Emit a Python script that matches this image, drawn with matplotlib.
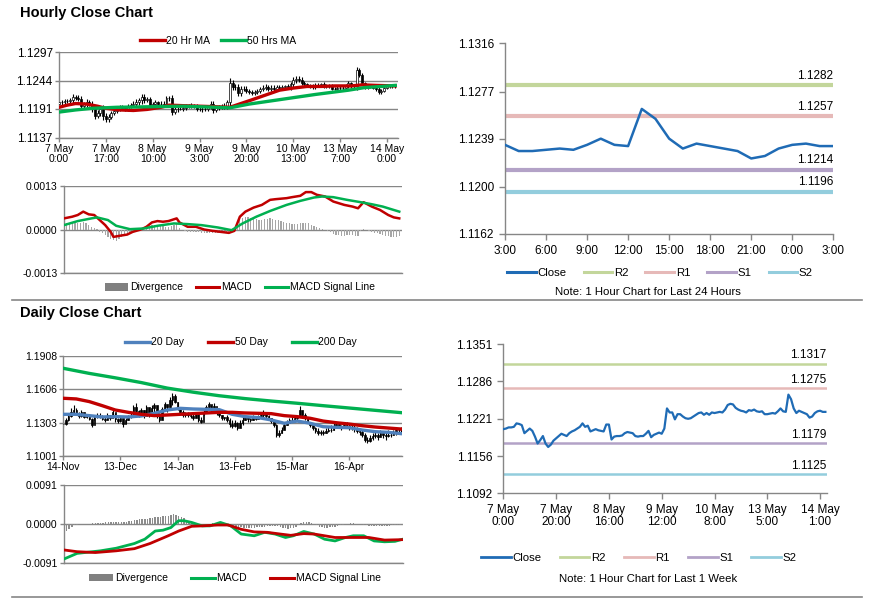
import numpy as np
import matplotlib
matplotlib.use("Agg")
import matplotlib.pyplot as plt
from matplotlib.lines import Line2D
from matplotlib.patches import Patch
from matplotlib.transforms import blended_transform_factory

plt.rcParams["font.family"] = ["Liberation Sans", "DejaVu Sans"]

W, H = 873, 601
GREY = "#868686"
RED = "#C00000"
GREEN = "#00B050"
BLUE = "#4F81BD"
CLOSE_BLUE = "#1F6BB5"
LEVEL_COLORS = ["#C3D69B", "#E6B9B8", "#B3A2C7", "#93CDDD"]
LEVEL_NAMES = ["R2", "R1", "S1", "S2"]

# ---------- hourly data, 7 May 0:00 .. 14 May 3:00 ----------
hourly_first_open = 1.1201
hourly_close = [
    1.1203, 1.1204, 1.1206, 1.1206, 1.1207, 1.1213, 1.1212, 1.1210, 1.1196, 1.1200,
    1.1204, 1.1200, 1.1190, 1.1178, 1.1184, 1.1191, 1.1178, 1.1172, 1.1176, 1.1183,
    1.1187, 1.1191, 1.1195, 1.1193, 1.1191, 1.1196, 1.1199, 1.1201, 1.1204, 1.1207,
    1.1213, 1.1207, 1.1209, 1.1199, 1.1201, 1.1203, 1.1201, 1.1200, 1.1199, 1.1211,
    1.1211, 1.1185, 1.1190, 1.1191, 1.1191, 1.1192, 1.1196, 1.1198, 1.1197, 1.1196,
    1.1191, 1.1190, 1.1191, 1.1191, 1.1195, 1.1200, 1.1189, 1.1193, 1.1195, 1.1197,
    1.1195, 1.1204, 1.1239, 1.1232, 1.1232, 1.1220, 1.1229, 1.1229, 1.1225, 1.1222,
    1.1221, 1.1222, 1.1225, 1.1228, 1.1231, 1.1232, 1.1228, 1.1231, 1.1228, 1.1232,
    1.1231, 1.1232, 1.1233, 1.1232, 1.1237, 1.1245, 1.1247, 1.1246, 1.1240, 1.1237,
    1.1235, 1.1234, 1.1232, 1.1236, 1.1235, 1.1237, 1.1234, 1.1233,
    1.1234, 1.1229, 1.1229, 1.1230, 1.1231, 1.1230, 1.1234, 1.1239, 1.1234, 1.1233,
    1.1263, 1.1255, 1.1239, 1.1231, 1.1235, 1.1233, 1.1231, 1.1229, 1.1223, 1.1225,
    1.1231, 1.1234, 1.1235, 1.1233, 1.1233,
]
hourly_wick_pips = [
    3, 4, 3, 4, 5, 6, 4, 5, 6, 4,
    5, 4, 5, 6, 5, 6, 7, 6, 5, 4,
    4, 3, 4, 3, 4, 4, 3, 4, 5, 5,
    6, 5, 4, 4, 3, 4, 3, 4, 5, 4,
    5, 6, 4, 4, 3, 4, 4, 3, 4, 4,
    4, 3, 4, 4, 4, 5, 6, 4, 4, 4,
    5, 4, 10, 6, 5, 5, 4, 4, 5, 4,
    4, 4, 3, 4, 4, 5, 4, 4, 4, 3,
    4, 4, 3, 4, 5, 5, 6, 5, 4, 4,
    3, 3, 4, 3, 3, 3, 4, 3, 3, 3,
    3, 4, 3, 3, 4, 4, 3, 4, 6, 5,
    4, 3, 3, 3, 3, 4, 5, 4, 3, 3,
    3, 3, 3,
]
hourly_ma20_idx = [0, 3, 6, 10, 14, 17, 22, 27, 32, 37, 40, 45, 51, 57, 62, 66,
                   70, 75, 80, 85, 90, 95, 100, 106, 110, 115, 122]
hourly_ma20 = [1.1194, 1.1198, 1.1201, 1.1200, 1.1196, 1.1192, 1.1189, 1.1188,
               1.1190, 1.1194, 1.1198, 1.1197, 1.1196, 1.1195, 1.1194, 1.1201,
               1.1208, 1.1217, 1.1226, 1.1230, 1.1233, 1.1233, 1.1234, 1.1234,
               1.1236, 1.1235, 1.1234]
hourly_ma50_idx = [0, 6, 12, 21, 33, 45, 57, 62, 69, 81, 93, 105, 111, 117, 122]
hourly_ma50 = [1.1185, 1.1189, 1.1192, 1.1194, 1.1195, 1.1196, 1.1194, 1.1193,
               1.1200, 1.1209, 1.1218, 1.1226, 1.1231, 1.1233, 1.1235]
hourly_xtick_pos = [0, 17, 34, 51, 68, 85, 102, 119]
hourly_xtick_labels = ["7 May\n0:00", "7 May\n17:00", "8 May\n10:00", "9 May\n3:00",
                       "9 May\n20:00", "10 May\n13:00", "13 May\n7:00", "14 May\n0:00"]
hourly_yticks = [1.1137, 1.1191, 1.1244, 1.1297]

# hourly MACD
hourly_macd_idx = [0, 3, 5, 7, 9, 11, 13, 15, 17, 18, 20, 23, 25, 28, 30, 32, 34,
                   36, 38, 41, 42, 45, 48, 51, 54, 57, 60, 62, 64, 66, 69, 72, 75,
                   77, 81, 83, 86, 88, 90, 92, 95, 98, 102, 105, 107, 109, 112,
                   115, 118, 120, 122]
hourly_macd = [0.00033, 0.00038, 0.00043, 0.00053, 0.00045, 0.00043, 0.00028,
               0.00013, -0.00007, -0.00022, -0.00019, -0.00015, -0.00007, 0.00000,
               0.00008, 0.00021, 0.00025, 0.00023, 0.00025, 0.00033, 0.00021,
               0.00008, 0.00008, 0.00000, -0.00004, -0.00007, -0.00010, -0.00004,
               0.00038, 0.00053, 0.00065, 0.00073, 0.00088, 0.00090, 0.00093,
               0.00096, 0.00100, 0.00111, 0.00111, 0.00103, 0.00098, 0.00083,
               0.00073, 0.00068, 0.00063, 0.00081, 0.00068, 0.00058, 0.00043,
               0.00036, 0.00033]
hourly_signal_idx = [0, 5, 10, 12, 16, 19, 24, 29, 34, 40, 45, 50, 56, 61, 65, 70,
                     75, 81, 86, 91, 94, 98, 103, 108, 112, 116, 122]
hourly_signal = [0.00013, 0.00025, 0.00033, 0.00036, 0.00028, 0.00011, 0.00001,
                 0.00003, 0.00011, 0.00018, 0.00016, 0.00013, 0.00006, -0.00002,
                 0.00018, 0.00038, 0.00055, 0.00073, 0.00085, 0.00095, 0.00098,
                 0.00096, 0.00088, 0.00081, 0.00075, 0.00068, 0.00053]
hourly_divergence_e5 = [
    20, 19, 19, 18, 18, 18, 20, 23, 18, 12,
    8, 5, 2, -7, -11, -15, -21, -27, -32, -35,
    -27, -23, -19, -16, -12, -8, -6, -4, -3, 0,
    3, 8, 13, 14, 14, 11, 9, 8, 8, 9,
    12, 15, 3, -2, -5, -8, -7, -6, -6, -8,
    -10, -11, -11, -11, -11, -11, -11, -11, -10, -10,
    -10, -6, 0, 15, 28, 33, 37, 36, 34, 33,
    30, 29, 28, 30, 32, 33, 30, 28, 27, 25,
    22, 20, 18, 17, 16, 17, 19, 20, 19, 18,
    14, 10, 7, 5, 2, 0, -3, -7, -13, -15,
    -17, -18, -18, -17, -17, -17, -18, -18, -5, 2,
    -2, -5, -7, -9, -10, -12, -15, -18, -20, -21,
    -22, -21, -20,
]
hourly_macd_yticks = [-0.0013, 0.0000, 0.0013]

# last 24 hours chart
day_xtick_labels = ["3:00", "6:00", "9:00", "12:00", "15:00", "18:00", "21:00", "0:00", "3:00"]
day_yticks = [1.1162, 1.1200, 1.1239, 1.1277, 1.1316]
day_levels = [1.1282, 1.1257, 1.1214, 1.1196]

# last week chart
week_xtick_pos = [0, 20, 40, 60, 80, 100, 120]
week_xtick_labels = ["7 May\n0:00", "7 May\n20:00", "8 May\n16:00", "9 May\n12:00",
                     "10 May\n8:00", "13 May\n5:00", "14 May\n1:00"]
week_yticks = [1.1092, 1.1156, 1.1221, 1.1286, 1.1351]
week_levels = [1.1317, 1.1275, 1.1179, 1.1125]

# ---------- daily data, 14 Nov .. 14 May ----------
daily_high = [
    1.1327, 1.1342, 1.1387, 1.1432, 1.1462, 1.1432, 1.1402, 1.1417, 1.1387, 1.1372,
    1.1357, 1.1342, 1.1372, 1.1387, 1.1387, 1.1372, 1.1357, 1.1387, 1.1372, 1.1417,
    1.1387, 1.1342, 1.1357, 1.1327, 1.1342, 1.1372, 1.1387, 1.1462, 1.1478, 1.1417,
    1.1432, 1.1417, 1.1462, 1.1432, 1.1462, 1.1478, 1.1417, 1.1387, 1.1447, 1.1493,
    1.1462, 1.1538, 1.1568, 1.1560, 1.1493, 1.1432, 1.1417, 1.1402, 1.1402, 1.1387,
    1.1387, 1.1402, 1.1387, 1.1357, 1.1417, 1.1462, 1.1493, 1.1462, 1.1478, 1.1432,
    1.1402, 1.1372, 1.1357, 1.1372, 1.1342, 1.1327, 1.1327, 1.1311, 1.1327, 1.1357,
    1.1372, 1.1357, 1.1342, 1.1372, 1.1357, 1.1372, 1.1387, 1.1417, 1.1387, 1.1372,
    1.1342, 1.1327, 1.1288, 1.1236, 1.1266, 1.1297, 1.1327, 1.1342, 1.1357, 1.1357,
    1.1372, 1.1456, 1.1417, 1.1387, 1.1342, 1.1311, 1.1281, 1.1266, 1.1251, 1.1236,
    1.1236, 1.1251, 1.1266, 1.1281, 1.1297, 1.1311, 1.1297, 1.1281, 1.1311, 1.1311,
    1.1297, 1.1281, 1.1281, 1.1266, 1.1251, 1.1236, 1.1206, 1.1176, 1.1191, 1.1206,
    1.1221, 1.1206, 1.1236, 1.1221, 1.1221, 1.1236, 1.1221, 1.1236, 1.1251, 1.1251,
    1.1266,
]
daily_low = [
    1.1266, 1.1281, 1.1320, 1.1357, 1.1387, 1.1372, 1.1342, 1.1357, 1.1342, 1.1342,
    1.1327, 1.1266, 1.1327, 1.1342, 1.1342, 1.1327, 1.1311, 1.1327, 1.1327, 1.1357,
    1.1311, 1.1297, 1.1311, 1.1266, 1.1297, 1.1327, 1.1342, 1.1372, 1.1387, 1.1357,
    1.1372, 1.1342, 1.1387, 1.1357, 1.1372, 1.1402, 1.1342, 1.1311, 1.1372, 1.1417,
    1.1402, 1.1447, 1.1462, 1.1478, 1.1417, 1.1387, 1.1357, 1.1357, 1.1357, 1.1342,
    1.1327, 1.1357, 1.1311, 1.1297, 1.1372, 1.1402, 1.1417, 1.1387, 1.1417, 1.1372,
    1.1357, 1.1327, 1.1327, 1.1311, 1.1266, 1.1251, 1.1266, 1.1236, 1.1266, 1.1281,
    1.1327, 1.1311, 1.1311, 1.1327, 1.1327, 1.1342, 1.1342, 1.1357, 1.1342, 1.1327,
    1.1297, 1.1266, 1.1176, 1.1176, 1.1206, 1.1251, 1.1281, 1.1297, 1.1311, 1.1327,
    1.1327, 1.1357, 1.1342, 1.1327, 1.1297, 1.1266, 1.1236, 1.1206, 1.1191, 1.1191,
    1.1191, 1.1206, 1.1221, 1.1221, 1.1236, 1.1266, 1.1251, 1.1236, 1.1266, 1.1251,
    1.1236, 1.1236, 1.1221, 1.1206, 1.1191, 1.1176, 1.1130, 1.1116, 1.1130, 1.1146,
    1.1161, 1.1146, 1.1176, 1.1161, 1.1146, 1.1176, 1.1176, 1.1191, 1.1191, 1.1206,
    1.1206,
]
daily_close = [
    1.1290, 1.1325, 1.1360, 1.1395, 1.1420, 1.1385, 1.1360, 1.1400, 1.1355, 1.1365,
    1.1340, 1.1285, 1.1355, 1.1370, 1.1350, 1.1340, 1.1330, 1.1375, 1.1345, 1.1395,
    1.1340, 1.1315, 1.1345, 1.1290, 1.1330, 1.1360, 1.1365, 1.1440, 1.1410, 1.1375,
    1.1415, 1.1360, 1.1445, 1.1380, 1.1435, 1.1460, 1.1385, 1.1330, 1.1430, 1.1470,
    1.1440, 1.1510, 1.1545, 1.1490, 1.1430, 1.1400, 1.1375, 1.1385, 1.1370, 1.1360,
    1.1345, 1.1390, 1.1330, 1.1310, 1.1400, 1.1445, 1.1470, 1.1420, 1.1455, 1.1390,
    1.1370, 1.1345, 1.1350, 1.1325, 1.1290, 1.1270, 1.1300, 1.1255, 1.1295, 1.1330,
    1.1360, 1.1335, 1.1325, 1.1355, 1.1340, 1.1360, 1.1370, 1.1400, 1.1365, 1.1345,
    1.1315, 1.1285, 1.1195, 1.1210, 1.1240, 1.1280, 1.1300, 1.1325, 1.1330, 1.1345,
    1.1350, 1.1420, 1.1370, 1.1345, 1.1310, 1.1280, 1.1250, 1.1225, 1.1210, 1.1215,
    1.1205, 1.1230, 1.1240, 1.1235, 1.1265, 1.1290, 1.1270, 1.1255, 1.1285, 1.1270,
    1.1260, 1.1250, 1.1245, 1.1225, 1.1215, 1.1195, 1.1150, 1.1140, 1.1165, 1.1180,
    1.1195, 1.1170, 1.1210, 1.1190, 1.1180, 1.1195, 1.1190, 1.1205, 1.1235, 1.1235,
    1.1233,
]
daily_ma_idx = [0, 5, 10, 15, 20, 25, 30, 35, 40, 45, 50, 55, 60, 65, 70, 75, 80,
                85, 90, 95, 100, 105, 110, 115, 120, 125, 130]
daily_ma20 = [1.1378, 1.1378, 1.1366, 1.1354, 1.1357, 1.1354, 1.1363, 1.1387,
              1.1417, 1.1432, 1.1426, 1.1423, 1.1420, 1.1378, 1.1357, 1.1348,
              1.1327, 1.1297, 1.1317, 1.1297, 1.1266, 1.1260, 1.1257, 1.1236,
              1.1221, 1.1215, 1.1203]
daily_ma50 = [1.1523, 1.1517, 1.1493, 1.1456, 1.1417, 1.1396, 1.1378, 1.1366,
              1.1372, 1.1378, 1.1384, 1.1390, 1.1396, 1.1396, 1.1390, 1.1387,
              1.1384, 1.1366, 1.1357, 1.1342, 1.1317, 1.1302, 1.1290, 1.1275,
              1.1263, 1.1254, 1.1245]
daily_ma200_idx = [0, 10, 20, 30, 40, 50, 60, 70, 80, 90, 100, 110, 120, 130]
daily_ma200 = [1.1794, 1.1748, 1.1708, 1.1665, 1.1615, 1.1578, 1.1546, 1.1520,
               1.1498, 1.1478, 1.1456, 1.1435, 1.1414, 1.1393]
daily_xtick_pos = [0, 22, 44, 66, 88, 110]
daily_xtick_labels = ["14-Nov", "13-Dec", "14-Jan", "13-Feb", "15-Mar", "16-Apr"]
daily_yticks = [1.1001, 1.1303, 1.1606, 1.1908]

# daily MACD
daily_macd_idx = [0, 5, 14, 20, 27, 31, 35, 38, 41, 44, 46, 49, 53, 56, 60, 64, 68,
                  73, 77, 81, 85, 88, 92, 96, 100, 104, 108, 111, 115, 119, 123,
                  127, 130]
daily_macd = [-0.0081, -0.0068, -0.0062, -0.0056, -0.0045, -0.0035, -0.0016,
              -0.0014, -0.0008, 0.0008, 0.0008, 0.0004, -0.0004, -0.0004, 0.0004,
              -0.0004, -0.0023, -0.0027, -0.0019, -0.0023, -0.0031, -0.0027,
              -0.0017, -0.0023, -0.0035, -0.0039, -0.0031, -0.0027, -0.0027,
              -0.0039, -0.0041, -0.0040, -0.0035]
daily_signal_idx = [0, 5, 12, 20, 27, 33, 40, 44, 49, 53, 59, 63, 68, 73, 78, 83,
                    87, 92, 96, 104, 110, 117, 123, 130]
daily_signal = [-0.0060, -0.0064, -0.0066, -0.0062, -0.0057, -0.0045, -0.0027,
                -0.0016, -0.0005, -0.0004, -0.0002, -0.0002, -0.0012, -0.0018,
                -0.0019, -0.0023, -0.0026, -0.0022, -0.0023, -0.0031, -0.0031,
                -0.0031, -0.0037, -0.0036]
daily_divergence_e5 = [
    -210, -170, -120, -60, -20, -10, -5, 0, 5, 10,
    15, 20, 25, 25, 30, 35, 40, 40, 45, 45,
    45, 50, 50, 55, 60, 70, 80, 90, 100, 110,
    120, 125, 130, 140, 150, 160, 165, 170, 180, 190,
    200, 210, 230, 220, 200, 170, 140, 100, 60, 30,
    15, 10, 5, 0, 5, 10, 15, 20, 15, 10,
    5, 0, -10, -20, -30, -45, -60, -70, -75, -80,
    -85, -85, -80, -80, -75, -70, -65, -55, -45, -40,
    -35, -40, -50, -70, -90, -100, -105, -100, -90, -60,
    -20, 20, 45, 55, 50, 30, 0, -30, -55, -70,
    -80, -80, -75, -70, -60, -45, -30, -10, 5, 15,
    20, 20, 15, 5, -5, -15, -25, -35, -40, -45,
    -45, -45, -40, -40, -35, -35, -30, -30, -25, -25,
    -20,
]
daily_macd_yticks = [-0.0091, 0.0000, 0.0091]


def add_axes_px(fig, left, top, right, bottom):
    return fig.add_axes([left / W, 1 - bottom / H, (right - left) / W, (bottom - top) / H])


def style_axes(ax, grid=True, tick_len=4, pad=2):
    for side in ["top", "right"]:
        ax.spines[side].set_visible(False)
    for side in ["left", "bottom"]:
        ax.spines[side].set_color(GREY)
        ax.spines[side].set_linewidth(1)
    ax.tick_params(color=GREY, labelcolor="black", length=tick_len, width=1, pad=pad)
    if grid:
        ax.yaxis.grid(True, color=GREY, linewidth=1)
        ax.set_axisbelow(True)


def add_legend(fig, handles, labels, cx, cy, fontsize, handlelength=2.3, columnspacing=1.2):
    fig.legend(
        handles, labels,
        loc="center",
        bbox_to_anchor=(cx / W, 1 - cy / H),
        ncol=len(handles),
        frameon=False,
        fontsize=fontsize,
        handlelength=handlelength,
        handletextpad=0.15,
        columnspacing=columnspacing,
        borderpad=0,
        borderaxespad=0,
    )


def draw_candles(ax, opens, highs, lows, closes, width, hollow_up=True):
    x = np.arange(len(closes))
    ax.vlines(x, lows, highs, color="black", linewidth=0.8, zorder=2)
    up = closes >= opens
    faces = ["white" if (u and hollow_up) else "black" for u in up]
    ax.bar(x, np.abs(closes - opens), width, bottom=np.minimum(opens, closes),
           color=faces, edgecolor="black", linewidth=0.5, zorder=3)


def level_lines(ax, levels, lw, text_size, offset):
    trans = blended_transform_factory(ax.transAxes, ax.transData)
    for value, color in zip(levels, LEVEL_COLORS):
        ax.axhline(value, color=color, linewidth=lw, zorder=1)
        ax.annotate(f"{value:.4f}", xy=(1, value), xycoords=trans,
                    xytext=(0, offset), textcoords="offset points",
                    ha="right", va="bottom", fontsize=text_size)


def hourly_chart(fig):
    ax = add_axes_px(fig, 59, 52.3, 398, 137.7)
    style_axes(ax, tick_len=3, pad=1.5)

    closes = np.array(hourly_close)
    opens = np.concatenate([[hourly_first_open], closes[:-1]])
    wick = np.array(hourly_wick_pips) / 10000
    highs = np.maximum(opens, closes) + wick
    lows = np.minimum(opens, closes) - wick
    draw_candles(ax, opens, highs, lows, closes, 0.7, hollow_up=True)

    ax.plot(hourly_ma20_idx, hourly_ma20, color=RED, linewidth=2.4, zorder=4)
    ax.plot(hourly_ma50_idx, hourly_ma50, color=GREEN, linewidth=2.4, zorder=4)

    ax.set_xlim(0, 123)
    ax.set_ylim(hourly_yticks[0], hourly_yticks[-1])
    ax.set_yticks(hourly_yticks)
    ax.set_yticklabels([f"{v:.4f}" for v in hourly_yticks], fontsize=8.5)
    ax.set_xticks(hourly_xtick_pos)
    ax.set_xticklabels(hourly_xtick_labels, fontsize=7.5, linespacing=1.0)

    add_legend(
        fig,
        [Line2D([], [], color=RED, linewidth=2.4), Line2D([], [], color=GREEN, linewidth=2.4)],
        ["20 Hr MA", "50 Hrs MA"],
        218, 40.5, 7.5, handlelength=2.4, columnspacing=1.0,
    )


def hourly_macd_chart(fig):
    ax = add_axes_px(fig, 64, 185.7, 402, 273.3)
    style_axes(ax, tick_len=3, pad=1.5)

    x = np.arange(len(hourly_divergence_e5))
    ax.bar(x, np.array(hourly_divergence_e5) / 100000, 0.45, color="#A6A6A6", zorder=2)
    ax.plot(hourly_macd_idx, hourly_macd, color=RED, linewidth=1.8, zorder=3)
    ax.plot(hourly_signal_idx, hourly_signal, color=GREEN, linewidth=1.8, zorder=3)

    ax.set_xlim(0, 123)
    ax.set_ylim(hourly_macd_yticks[0], hourly_macd_yticks[-1])
    ax.set_yticks(hourly_macd_yticks)
    ax.set_yticklabels([f"{v:.4f}" for v in hourly_macd_yticks], fontsize=7.5)
    ax.set_xticks([])

    add_legend(
        fig,
        [Patch(facecolor="#808080"), Line2D([], [], color=RED, linewidth=2.2),
         Line2D([], [], color=GREEN, linewidth=2.2)],
        ["Divergence", "MACD", "MACD Signal Line"],
        240, 287.5, 7.5, handlelength=2.2, columnspacing=1.3,
    )


def day_levels_chart(fig):
    ax = add_axes_px(fig, 505, 43.3, 833.3, 234)
    style_axes(ax, grid=False, tick_len=4, pad=4)

    last_day = hourly_close[-25:]
    level_lines(ax, day_levels, 3.0, 8.5, 2.5)
    ax.plot(np.arange(len(last_day)), last_day, color=CLOSE_BLUE, linewidth=1.8, zorder=3)

    ax.set_xlim(0, 24)
    ax.set_ylim(day_yticks[0], day_yticks[-1])
    ax.set_yticks(day_yticks)
    ax.set_yticklabels([f"{v:.4f}" for v in day_yticks], fontsize=8.5)
    ax.set_xticks(np.arange(0, 25, 3))
    ax.set_xticklabels(day_xtick_labels, fontsize=8.5)

    handles = [Line2D([], [], color=CLOSE_BLUE, linewidth=2.2)]
    handles += [Line2D([], [], color=c, linewidth=2.2) for c in LEVEL_COLORS]
    add_legend(fig, handles, ["Close"] + LEVEL_NAMES, 660, 273.3, 8.2,
               handlelength=2.5, columnspacing=1.5)
    fig.text(648 / W, 1 - 291.7 / H, "Note: 1 Hour Chart for Last 24 Hours",
             ha="center", va="center", fontsize=8.2)


def week_chart(fig):
    ax = add_axes_px(fig, 503.3, 344, 826.7, 493)
    style_axes(ax, grid=False, tick_len=4, pad=4)

    level_lines(ax, week_levels, 1.8, 8.5, 1.5)
    ax.plot(np.arange(len(hourly_close)), hourly_close, color=CLOSE_BLUE, linewidth=1.6, zorder=3)

    ax.set_xlim(0, 122.5)
    ax.set_ylim(week_yticks[0], week_yticks[-1])
    ax.set_yticks(week_yticks)
    ax.set_yticklabels([f"{v:.4f}" for v in week_yticks], fontsize=8.5)
    ax.set_xticks(week_xtick_pos)
    ax.set_xticklabels(week_xtick_labels, fontsize=8.5, linespacing=1.0)

    handles = [Line2D([], [], color=CLOSE_BLUE, linewidth=2.0)]
    handles += [Line2D([], [], color=c, linewidth=2.0) for c in LEVEL_COLORS]
    add_legend(fig, handles, ["Close"] + LEVEL_NAMES, 639, 557.7, 8.2,
               handlelength=2.6, columnspacing=1.6)
    fig.text(648 / W, 1 - 579.3 / H, "Note: 1 Hour Chart for Last 1 Week",
             ha="center", va="center", fontsize=8.2)


def daily_chart(fig):
    ax = add_axes_px(fig, 63.3, 355.7, 401.7, 456)
    style_axes(ax, tick_len=3, pad=1.5)

    closes = np.array(daily_close)
    opens = np.concatenate([[closes[0]], closes[:-1]])
    draw_candles(ax, opens, np.array(daily_high), np.array(daily_low), closes, 0.6, hollow_up=False)

    ax.plot(daily_ma_idx, daily_ma20, color=BLUE, linewidth=2.4, zorder=4)
    ax.plot(daily_ma_idx, daily_ma50, color=RED, linewidth=2.4, zorder=4)
    ax.plot(daily_ma200_idx, daily_ma200, color=GREEN, linewidth=2.4, zorder=4)

    ax.set_xlim(0, 130.2)
    ax.set_ylim(daily_yticks[0], daily_yticks[-1])
    ax.set_yticks(daily_yticks)
    ax.set_yticklabels([f"{v:.4f}" for v in daily_yticks], fontsize=7.5)
    ax.set_xticks(daily_xtick_pos)
    ax.set_xticklabels(daily_xtick_labels, fontsize=7.5)

    add_legend(
        fig,
        [Line2D([], [], color=BLUE, linewidth=2.4), Line2D([], [], color=RED, linewidth=2.4),
         Line2D([], [], color=GREEN, linewidth=2.4)],
        ["20 Day", "50 Day", "200 Day"],
        241, 342.3, 7.5, handlelength=2.4, columnspacing=2.3,
    )


def daily_macd_chart(fig):
    ax = add_axes_px(fig, 64, 485, 403.3, 563.3)
    style_axes(ax, tick_len=3, pad=1.5)

    x = np.arange(len(daily_divergence_e5))
    ax.bar(x, np.array(daily_divergence_e5) / 100000, 0.55, color="#8C8C8C", zorder=2)
    ax.plot(daily_macd_idx, daily_macd, color=GREEN, linewidth=2.0, zorder=3)
    ax.plot(daily_signal_idx, daily_signal, color=RED, linewidth=2.0, zorder=3)

    ax.set_xlim(0, 130.2)
    ax.set_ylim(daily_macd_yticks[0], daily_macd_yticks[-1])
    ax.set_yticks(daily_macd_yticks)
    ax.set_yticklabels([f"{v:.4f}" for v in daily_macd_yticks], fontsize=7.5)
    ax.set_xticks([])

    add_legend(
        fig,
        [Patch(facecolor="#808080"), Line2D([], [], color=GREEN, linewidth=2.2),
         Line2D([], [], color=RED, linewidth=2.2)],
        ["Divergence", "MACD", "MACD Signal Line"],
        235, 578.3, 7.5, handlelength=2.3, columnspacing=2.2,
    )


def main():
    fig = plt.figure(figsize=(W / 100, H / 100), dpi=100)
    fig.patch.set_facecolor("white")

    fig.text(20 / W, 1 - 13 / H, "Hourly Close Chart", fontsize=10.5,
             fontweight="bold", ha="left", va="center")
    fig.text(20 / W, 1 - 313 / H, "Daily Close Chart", fontsize=10.5,
             fontweight="bold", ha="left", va="center")

    for y in [300, 597]:
        fig.add_artist(Line2D([12 / W, 862 / W], [1 - y / H, 1 - y / H],
                              color=GREY, linewidth=1.2))

    hourly_chart(fig)
    hourly_macd_chart(fig)
    day_levels_chart(fig)
    daily_chart(fig)
    daily_macd_chart(fig)
    week_chart(fig)

    fig.savefig("out.png", dpi=100, facecolor="white")


if __name__ == "__main__":
    main()
